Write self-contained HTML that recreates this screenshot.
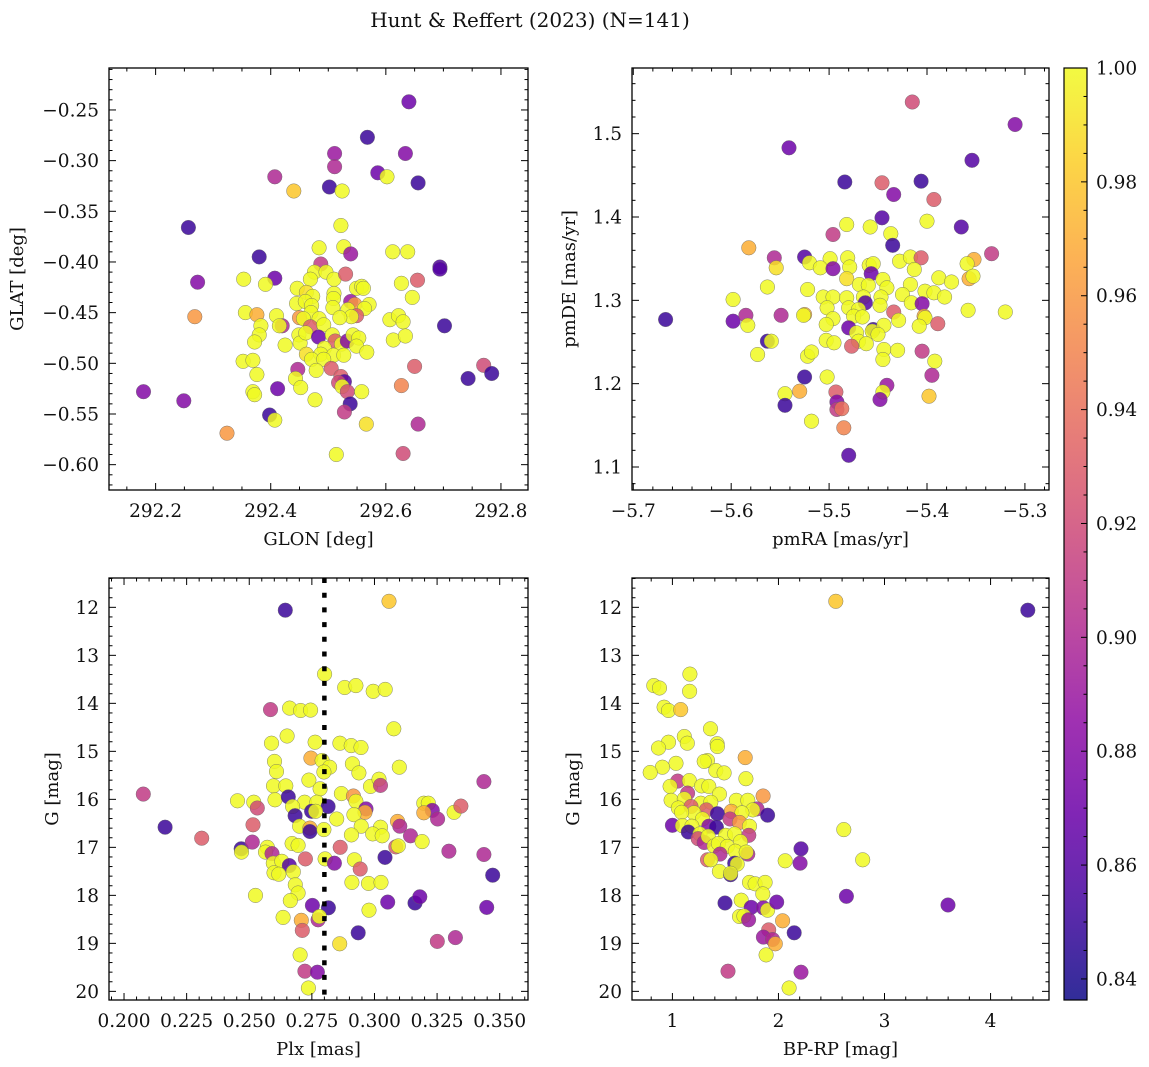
<!DOCTYPE html>
<html><head><meta charset="utf-8"><title>Hunt & Reffert (2023)</title>
<style>
html,body{margin:0;padding:0;background:#fff;}
svg{display:block;font-family:"DejaVu Serif","Liberation Serif",serif;}
</style></head>
<body>
<svg id="fig" width="1149" height="1067" viewBox="0 0 1149 1067" xmlns="http://www.w3.org/2000/svg">
<text x="530" y="27" font-size="20" text-anchor="middle" fill="#111">Hunt &amp; Reffert (2023) (N=141)</text>
<g id="layer"></g>
</svg>
<script>
// ---------- Panel 1: GLON vs GLAT ----------
const p1Glon=[292.640,292.568,292.511,292.634,292.511,292.586,292.602,292.407,292.656,292.502,292.440,292.524,292.257,292.522,292.484,292.527,292.539,292.380,292.612,292.638,292.487,292.694,292.694,292.407,292.273,292.353,292.391,292.476,292.496,292.469,292.510,292.530,292.655,292.627,292.446,292.462,292.473,292.510,292.549,292.558,292.561,292.646,292.445,292.460,292.471,292.509,292.508,292.539,292.546,292.571,292.534,292.563,292.549,292.540,292.470,292.356,292.376,292.410,292.268,292.450,292.457,292.484,292.520,292.607,292.622,292.630,292.702,292.383,292.420,292.415,292.469,292.492,292.380,292.372,292.425,292.449,292.451,292.461,292.483,292.507,292.512,292.523,292.533,292.543,292.553,292.549,292.567,292.613,292.634,292.493,292.487,292.462,292.471,292.509,292.527,292.492,292.352,292.369,292.376,292.447,292.479,292.505,292.522,292.528,292.518,292.524,292.533,292.650,292.627,292.770,292.784,292.743,292.443,292.452,292.412,292.558,292.369,292.372,292.179,292.249,292.477,292.538,292.528,292.398,292.407,292.566,292.656,292.324,292.514,292.630];
const p1Glat=[-0.242,-0.277,-0.293,-0.293,-0.306,-0.312,-0.316,-0.316,-0.322,-0.326,-0.330,-0.330,-0.366,-0.364,-0.386,-0.385,-0.392,-0.395,-0.390,-0.390,-0.402,-0.405,-0.407,-0.416,-0.420,-0.417,-0.422,-0.410,-0.410,-0.417,-0.417,-0.412,-0.418,-0.421,-0.426,-0.430,-0.434,-0.431,-0.426,-0.424,-0.426,-0.435,-0.441,-0.439,-0.443,-0.436,-0.445,-0.439,-0.442,-0.442,-0.447,-0.446,-0.453,-0.454,-0.450,-0.450,-0.452,-0.453,-0.454,-0.455,-0.456,-0.456,-0.455,-0.457,-0.453,-0.459,-0.463,-0.463,-0.463,-0.463,-0.464,-0.462,-0.472,-0.479,-0.482,-0.472,-0.480,-0.470,-0.474,-0.472,-0.478,-0.481,-0.478,-0.472,-0.475,-0.483,-0.489,-0.477,-0.473,-0.485,-0.491,-0.491,-0.496,-0.492,-0.492,-0.496,-0.498,-0.497,-0.511,-0.506,-0.507,-0.505,-0.513,-0.518,-0.519,-0.523,-0.528,-0.503,-0.522,-0.502,-0.510,-0.515,-0.515,-0.524,-0.525,-0.528,-0.528,-0.531,-0.528,-0.537,-0.536,-0.540,-0.548,-0.551,-0.556,-0.560,-0.560,-0.569,-0.590,-0.589];
const p1Prob=[0.87,0.85,0.89,0.88,0.90,0.87,1,0.90,0.85,0.85,0.98,1,0.85,1,1,1,0.89,0.85,1,1,0.91,0.86,0.86,0.87,0.88,1,1,1,1,1,1,0.93,0.93,1,1,0.99,1,1,1,1,1,1,1,1,1,1,1,0.89,0.96,1,1,1,0.93,1,1,1,0.97,1,0.96,0.96,1,1,1,1,1,1,0.85,1,0.90,1,0.93,1,1,1,1,1,1,1,0.87,1,0.93,1,0.88,1,1,1,1,1,1,1,1,0.99,1,1,1,1,1,1,1,0.90,1,0.93,0.93,0.86,0.92,1,0.92,0.93,0.95,0.92,0.85,0.85,1,1,0.87,1,1,1,0.88,0.88,1,0.85,0.91,0.85,1,0.99,0.90,0.96,1,0.92];

// ---------- Panel 2: pmRA vs pmDE ----------
const p2Pmra=[-5.415,-5.310,-5.541,-5.354,-5.484,-5.446,-5.406,-5.434,-5.393,-5.446,-5.365,-5.482,-5.458,-5.400,-5.496,-5.437,-5.435,-5.582,-5.556,-5.525,-5.520,-5.499,-5.481,-5.554,-5.509,-5.496,-5.479,-5.459,-5.455,-5.428,-5.417,-5.406,-5.413,-5.334,-5.352,-5.359,-5.457,-5.482,-5.445,-5.388,-5.375,-5.357,-5.353,-5.563,-5.522,-5.469,-5.460,-5.441,-5.417,-5.402,-5.425,-5.393,-5.382,-5.598,-5.506,-5.496,-5.482,-5.465,-5.447,-5.463,-5.448,-5.416,-5.405,-5.502,-5.480,-5.470,-5.358,-5.320,-5.434,-5.667,-5.598,-5.585,-5.549,-5.525,-5.526,-5.496,-5.475,-5.466,-5.429,-5.403,-5.402,-5.389,-5.583,-5.503,-5.480,-5.455,-5.456,-5.444,-5.450,-5.408,-5.472,-5.563,-5.559,-5.503,-5.495,-5.470,-5.462,-5.477,-5.573,-5.522,-5.518,-5.444,-5.445,-5.430,-5.405,-5.392,-5.395,-5.525,-5.502,-5.545,-5.530,-5.493,-5.441,-5.445,-5.448,-5.398,-5.545,-5.492,-5.492,-5.487,-5.518,-5.485,-5.480];
const p2Pmde=[1.538,1.511,1.483,1.468,1.442,1.441,1.443,1.427,1.421,1.399,1.388,1.391,1.388,1.395,1.379,1.380,1.366,1.363,1.351,1.352,1.345,1.350,1.351,1.339,1.339,1.338,1.340,1.342,1.344,1.347,1.352,1.351,1.337,1.356,1.349,1.344,1.332,1.326,1.325,1.327,1.322,1.326,1.329,1.316,1.313,1.319,1.318,1.315,1.319,1.311,1.307,1.309,1.304,1.301,1.304,1.304,1.303,1.304,1.304,1.297,1.294,1.297,1.296,1.291,1.291,1.289,1.288,1.286,1.286,1.277,1.275,1.282,1.282,1.283,1.282,1.278,1.281,1.280,1.276,1.281,1.279,1.272,1.270,1.271,1.267,1.265,1.263,1.270,1.259,1.269,1.261,1.251,1.251,1.252,1.249,1.251,1.248,1.245,1.235,1.233,1.238,1.241,1.229,1.240,1.239,1.227,1.210,1.208,1.208,1.188,1.191,1.190,1.198,1.190,1.181,1.185,1.174,1.178,1.169,1.170,1.155,1.147,1.114];
const p2Prob=[0.92,0.88,0.87,0.86,0.85,0.93,0.85,0.88,0.93,0.86,0.86,1,1,1,0.91,1,0.85,0.97,0.90,0.86,1,1,1,0.99,1,0.88,1,1,1,1,1,0.93,1,0.91,0.97,1,0.87,0.99,1,1,1,0.97,1,1,1,1,1,1,1,1,1,1,1,1,1,1,1,1,1,0.86,1,1,0.88,1,1,1,1,1,0.93,0.85,0.87,0.90,0.90,0.97,1,1,1,1,1,0.97,1,0.93,1,1,0.87,0.85,1,1,1,1,1,0.85,1,1,1,1,1,0.93,1,1,1,1,1,1,0.91,1,0.90,0.85,1,1,0.97,0.93,0.89,1,0.88,0.98,0.85,0.88,0.91,0.94,1,0.95,0.86];

// ---------- Panel 3: Plx vs G ----------
const p3Plx=[0.3058,0.2644,0.2801,0.2881,0.2926,0.2995,0.3043,0.2585,0.2661,0.2705,0.2745,0.3077,0.2589,0.2651,0.2763,0.2862,0.2907,0.2946,0.2746,0.2791,0.2821,0.2912,0.2938,0.3099,0.2601,0.2609,0.2798,0.2738,0.2597,0.2646,0.2783,0.2984,0.3018,0.3024,0.3437,0.2077,0.2453,0.2518,0.2532,0.2603,0.2656,0.2721,0.2770,0.2868,0.2916,0.2926,0.2815,0.2673,0.2749,0.2765,0.2966,0.2962,0.2918,0.2683,0.3197,0.3215,0.3231,0.3197,0.3252,0.3318,0.3345,0.2849,0.2515,0.2701,0.2742,0.2742,0.2798,0.2947,0.3024,0.3092,0.3101,0.2164,0.2310,0.2908,0.2993,0.3031,0.3144,0.3190,0.2468,0.2512,0.2469,0.2572,0.2565,0.2591,0.2671,0.2695,0.2863,0.3085,0.3095,0.2803,0.2724,0.2840,0.2920,0.3042,0.3297,0.3437,0.3472,0.2596,0.2630,0.2660,0.2599,0.2618,0.2676,0.2943,0.2684,0.2910,0.2976,0.3026,0.2525,0.2695,0.2664,0.2752,0.2816,0.3053,0.3162,0.3181,0.2978,0.3448,0.2635,0.2708,0.2775,0.2780,0.2712,0.2935,0.2861,0.3251,0.3323,0.2703,0.2722,0.2772,0.2736];
const p3G=[11.875,12.06,13.39,13.67,13.63,13.75,13.71,14.13,14.10,14.15,14.14,14.53,14.83,14.68,14.81,14.83,14.88,14.92,15.14,15.19,15.33,15.26,15.45,15.33,15.21,15.42,15.43,15.60,15.72,15.72,15.78,15.73,15.58,15.71,15.63,15.89,16.03,16.06,16.18,16.01,15.95,16.06,16.06,15.88,15.93,16.04,16.15,16.15,16.25,16.25,16.20,16.27,16.32,16.34,16.08,16.08,16.23,16.28,16.41,16.27,16.14,16.41,16.53,16.56,16.60,16.67,16.63,16.56,16.58,16.46,16.56,16.58,16.81,16.74,16.72,16.76,16.76,16.88,17.03,16.89,17.10,17.00,17.10,17.13,16.92,16.96,17.00,16.99,16.97,17.24,17.24,17.33,17.26,17.21,17.08,17.15,17.58,17.33,17.29,17.38,17.53,17.56,17.51,17.45,17.78,17.73,17.75,17.73,18.00,17.95,18.11,18.21,18.26,18.14,18.16,18.03,18.31,18.25,18.46,18.52,18.51,18.44,18.73,18.78,19.01,18.96,18.88,19.24,19.58,19.60,19.93];
const p3Prob=[0.98,0.85,1,1,1,1,1,0.91,1,1,1,1,1,1,1,1,1,1,0.97,1,1,1,1,1,1,1,1,1,1,1,1,1,1,0.91,0.90,0.91,1,1,0.92,1,0.85,1,1,1,0.96,1,0.85,1,0.85,1,0.88,0.97,1,0.85,1,1,0.88,0.97,0.90,1,0.93,1,0.93,1,0.97,0.85,1,1,1,0.97,0.90,0.85,0.93,1,1,1,0.90,1,0.85,0.90,1,1,1,0.90,1,1,0.93,0.93,1,1,0.93,0.88,1,0.85,0.90,0.90,0.85,1,1,0.86,1,1,1,0.93,1,1,1,1,1,1,1,0.87,0.85,0.87,0.85,0.87,1,0.87,1,0.97,0.90,1,0.93,0.85,0.99,0.91,0.90,1,0.91,0.88,1];
const plxRef=0.28;

// ---------- Panel 4: BP-RP vs G ----------
const p4Bprp=[2.541,4.351,1.165,0.825,0.878,1.162,0.922,0.963,1.078,1.359,1.112,1.140,0.963,0.869,1.421,1.424,1.686,1.331,1.300,1.034,0.906,0.791,1.409,1.487,1.693,1.050,1.159,0.978,1.143,1.275,1.343,1.443,1.855,0.988,1.112,1.268,1.362,1.602,1.711,1.056,1.175,1.321,1.798,1.758,1.555,1.424,1.898,1.203,1.087,1.655,1.284,1.543,1.633,1.000,1.094,1.184,1.343,1.415,1.727,1.150,1.259,1.243,1.300,1.337,1.502,1.587,1.720,1.642,1.393,1.434,1.518,1.449,1.593,1.711,1.696,1.331,1.362,1.587,1.611,1.443,1.549,1.549,2.064,2.204,2.213,2.616,2.794,1.727,1.780,1.874,1.852,1.496,1.649,1.743,1.858,1.898,1.983,2.641,3.599,1.633,1.674,1.718,2.039,1.908,1.858,1.945,1.970,2.148,1.883,1.524,2.213,2.100];
const p4G=[11.875,12.06,13.39,13.63,13.68,13.75,14.08,14.15,14.13,14.53,14.69,14.83,14.81,14.93,14.84,14.90,15.13,15.19,15.21,15.25,15.33,15.44,15.40,15.45,15.57,15.62,15.61,15.73,15.87,15.72,15.73,15.89,15.93,16.02,15.99,16.08,16.06,16.02,16.02,16.18,16.15,16.22,16.20,16.22,16.25,16.30,16.33,16.28,16.27,16.28,16.41,16.41,16.48,16.54,16.55,16.56,16.56,16.58,16.56,16.68,16.72,16.82,16.90,16.77,16.75,16.72,16.75,16.88,16.97,16.92,16.98,17.14,17.08,17.14,17.10,17.26,17.26,17.33,17.35,17.50,17.57,17.54,17.28,17.33,17.03,16.63,17.26,17.73,17.76,17.73,17.97,18.16,18.10,18.25,18.26,18.31,18.14,18.02,18.20,18.44,18.43,18.51,18.53,18.72,18.87,18.92,19.01,18.78,19.24,19.58,19.60,19.93];
const p4Prob=[0.98,0.85,1,1,1,1,1,1,0.98,1,1,1,1,1,1,1,0.97,1,1,1,1,1,1,1,1,0.91,1,1,0.91,1,1,1,0.96,1,1,1,1,1,1,1,0.93,0.93,0.90,1,0.97,0.85,0.85,1,1,1,1,0.91,0.96,0.87,1,1,0.88,0.85,1,0.85,1,0.92,0.90,1,1,1,0.91,1,1,1,1,0.90,1,0.90,1,0.93,1,0.85,1,1,0.85,1,1,0.88,0.86,1,1,1,1,1,1,0.85,1,0.87,0.88,1,0.87,0.87,0.87,1,1,0.89,0.97,0.93,0.89,0.90,0.97,0.85,1,0.91,0.89,1];

// ---------- Colour scale ----------
const VMIN=0.8363, VMAX=1.0;
const cbTicks=[0.84,0.86,0.88,0.90,0.92,0.94,0.96,0.98,1.00];

const PLASMA=[[13,8,135],[65,4,157],[106,0,168],[143,13,164],[177,42,144],[204,71,120],[225,100,98],[242,132,75],[252,166,54],[252,206,37],[240,249,33]];
function cmap(t){
  t=Math.max(0,Math.min(1,t));
  const f=t*10, i=Math.min(9,Math.floor(f)), u=f-i;
  const a=PLASMA[i], b=PLASMA[i+1];
  return 'rgb('+a.map((v,k)=>Math.round(v+(b[k]-v)*u)).join(',')+')';
}
function colorOf(p){return cmap((p-VMIN)/(VMAX-VMIN));}

const NS='http://www.w3.org/2000/svg';
const layer=document.getElementById('layer');
function mk(tag,attrs,parent){
  const e=document.createElementNS(NS,tag);
  for(const k in attrs)e.setAttribute(k,attrs[k]);
  (parent||layer).appendChild(e);
  return e;
}
function fmtNum(v,d){const s=Math.abs(v).toFixed(d);return (v<-1e-9?'\u2212':'')+s;}

const TICKFS=18.5, TITLEFS=18;

function drawPanel(cfg){
  const g=mk('g',{});
  
  
  const L=cfg.box[0],T=cfg.box[1],R=cfg.box[2],B=cfg.box[3];
  const sx=v=>L+(v-cfg.xd[0])/(cfg.xd[1]-cfg.xd[0])*(R-L);
  const sy=v=>cfg.yInv ? T+(v-cfg.yd[0])/(cfg.yd[1]-cfg.yd[0])*(B-T)
                       : B-(v-cfg.yd[0])/(cfg.yd[1]-cfg.yd[0])*(B-T);
  const pg=mk('g',{},g);
  
  
  for(let i=0;i<cfg.xs.length;i++){
    const c=mk('circle',{cx:sx(cfg.xs[i]).toFixed(1),cy:sy(cfg.ys[i]).toFixed(1),r:7.3,fill:colorOf(cfg.ps[i]),'fill-opacity':0.85,stroke:'#666','stroke-width':0.5,'stroke-opacity':0.8},pg);
    
    
  }
  if(cfg.extra)cfg.extra(g,sx,sy,L,T,R,B);
  const fr=mk('rect',{x:L,y:T,width:R-L,height:B-T,fill:'none',stroke:'#000','stroke-width':1.3},g);
  
  
  const tg=mk('g',{stroke:'#000','stroke-width':1},g);
  
  
  const eps=1e-9;
  const lo=Math.min(cfg.xd[0],cfg.xd[1]),hi=Math.max(cfg.xd[0],cfg.xd[1]);
  for(let k=Math.ceil(lo/cfg.xMinor-eps);k*cfg.xMinor<=hi+eps;k++){
    const v=k*cfg.xMinor,x=sx(v);
    const major=Math.abs(v/cfg.xMajor-Math.round(v/cfg.xMajor))<1e-4;
    const len=major?7:3.5;
    mk('line',{x1:x,y1:B,x2:x,y2:B-len},tg);
    mk('line',{x1:x,y1:T,x2:x,y2:T+len},tg);
  }
  const ylo=Math.min(cfg.yd[0],cfg.yd[1]),yhi=Math.max(cfg.yd[0],cfg.yd[1]);
  for(let k=Math.ceil(ylo/cfg.yMinor-eps);k*cfg.yMinor<=yhi+eps;k++){
    const v=k*cfg.yMinor,y=sy(v);
    const major=Math.abs(v/cfg.yMajor-Math.round(v/cfg.yMajor))<1e-4;
    const len=major?7:3.5;
    mk('line',{x1:L,y1:y,x2:L+len,y2:y},tg);
    mk('line',{x1:R,y1:y,x2:R-len,y2:y},tg);
  }
  cfg.xLabels.forEach(v=>{
    const t=mk('text',{x:sx(v),y:B+27,'font-size':TICKFS,'text-anchor':'middle',fill:'#111'},g);
    t.textContent=fmtNum(v,cfg.xDec);
    
    
  });
  cfg.yLabels.forEach(v=>{
    const t=mk('text',{x:L-10,y:sy(v)+6.5,'font-size':TICKFS,'text-anchor':'end',fill:'#111'},g);
    t.textContent=fmtNum(v,cfg.yDec);
    
    
  });
  const xt=mk('text',{x:(L+R)/2,y:B+55,'font-size':TITLEFS,'text-anchor':'middle',fill:'#111'},g);
  xt.textContent=cfg.xTitle;
  
  
  const yt=mk('text',{x:cfg.yTitleX,y:(T+B)/2,'font-size':TITLEFS,'text-anchor':'middle',fill:'#111',transform:'rotate(-90 '+cfg.yTitleX+' '+(T+B)/2+')'},g);
  yt.textContent=cfg.yTitle;
  
  
}

const p1xTicks=[292.2,292.4,292.6,292.8];
const p1yTicks=[-0.25,-0.30,-0.35,-0.40,-0.45,-0.50,-0.55,-0.60];
const p2xTicks=[-5.7,-5.6,-5.5,-5.4,-5.3];
const p2yTicks=[1.1,1.2,1.3,1.4,1.5];
const p3xTicks=[0.200,0.225,0.250,0.275,0.300,0.325,0.350];
const gTicks=[12,13,14,15,16,17,18,19,20];
const p4xTicks=[1,2,3,4];

drawPanel({name:'glon-glat-panel',box:[109,68,528,490],xd:[292.119,292.847],yd:[-0.625,-0.2086],yInv:false,
  xs:p1Glon,ys:p1Glat,ps:p1Prob,xMajor:0.2,xMinor:0.05,yMajor:0.05,yMinor:0.01,
  xLabels:p1xTicks,yLabels:p1yTicks,xDec:1,yDec:2,xTitle:'GLON [deg]',yTitle:'GLAT [deg]',yTitleX:23});
drawPanel({name:'pmra-pmde-panel',box:[632,68,1049,490],xd:[-5.7013,-5.2754],yd:[1.0724,1.5788],yInv:false,
  xs:p2Pmra,ys:p2Pmde,ps:p2Prob,xMajor:0.1,xMinor:0.02,yMajor:0.1,yMinor:0.02,
  xLabels:p2xTicks,yLabels:p2yTicks,xDec:1,yDec:1,xTitle:'pmRA [mas/yr]',yTitle:'pmDE [mas/yr]',yTitleX:575});
drawPanel({name:'plx-g-panel',box:[109,578,528,1000],xd:[0.194,0.3613],yd:[11.389,20.18],yInv:true,
  xs:p3Plx,ys:p3G,ps:p3Prob,xMajor:0.025,xMinor:0.005,yMajor:1,yMinor:0.2,
  xLabels:p3xTicks,yLabels:gTicks,xDec:3,yDec:0,xTitle:'Plx [mas]',yTitle:'G [mag]',yTitleX:58,
  extra:(g,sx,sy,L,T,R,B)=>{
    const x=sx(plxRef);
    const ln=mk('line',{x1:x,y1:T,x2:x,y2:B,stroke:'#000','stroke-width':4.5,'stroke-dasharray':'5 9.7'},g);
    
    
  }});
drawPanel({name:'color-magnitude-panel',box:[632,578,1049,1000],xd:[0.619,4.551],yd:[11.389,20.18],yInv:true,
  xs:p4Bprp,ys:p4G,ps:p4Prob,xMajor:1,xMinor:0.2,yMajor:1,yMinor:0.2,
  xLabels:p4xTicks,yLabels:gTicks,xDec:0,yDec:0,xTitle:'BP-RP [mag]',yTitle:'G [mag]',yTitleX:579});

(function(){
  const L=1064,R=1087,T=68,B=1000;
  const defs=mk('defs',{});
  const gr=mk('linearGradient',{id:'plasmaGrad',x1:0,y1:1,x2:0,y2:0},defs);
  for(let i=0;i<=20;i++){mk('stop',{offset:(i/20),'stop-color':cmap(i/20),'stop-opacity':0.85},gr);}
  const cb=mk('g',{});
  
  
  mk('rect',{x:L,y:T,width:R-L,height:B-T,fill:'url(#plasmaGrad)',stroke:'#000','stroke-width':1.2},cb);
  const sy=v=>B-(v-VMIN)/(VMAX-VMIN)*(B-T);
  for(let k=Math.ceil(VMIN/0.005-1e-9);k*0.005<=VMAX+1e-9;k++){
    const v=k*0.005,y=sy(v);
    const major=Math.abs(v/0.02-Math.round(v/0.02))<1e-4;
    mk('line',{x1:R,y1:y,x2:R-(major?6:3.5),y2:y,stroke:'#000','stroke-width':1},cb);
  }
  cbTicks.forEach(v=>{
    const t=mk('text',{x:R+9,y:sy(v)+6.5,'font-size':TICKFS,fill:'#111'},cb);
    t.textContent=v.toFixed(2);
    
    
  });
})();
</script>
</body></html>
